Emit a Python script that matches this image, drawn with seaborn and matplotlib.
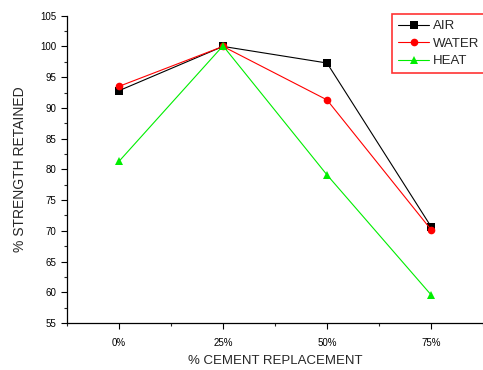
import matplotlib
matplotlib.use('Agg')
import matplotlib.pyplot as plt
from matplotlib.ticker import MultipleLocator, FixedLocator
import seaborn as sns
import pandas as pd

# data
replacement = ['0%', '25%', '50%', '75%']
air = [92.8, 100.0, 97.3, 70.7]
water = [93.5, 100.0, 91.3, 70.2]
heat = [81.3, 100.1, 79.1, 59.6]

series_names = ['AIR', 'WATER', 'HEAT']
colors = {'AIR': 'black', 'WATER': 'red', 'HEAT': '#00ee00'}
markers = {'AIR': 's', 'WATER': 'o', 'HEAT': '^'}

df = pd.DataFrame({
    'pos': list(range(len(replacement))) * 3,
    'value': air + water + heat,
    'series': [s for s in series_names for _ in replacement],
})

sns.set_style('ticks')
plt.rcParams['font.family'] = ['Liberation Sans', 'DejaVu Sans']

fig = plt.figure(figsize=(4.83, 3.70), dpi=100)
ax = fig.add_axes([0.1387, 0.127, 0.8613, 0.8306])

sns.lineplot(data=df, x='pos', y='value', hue='series', style='series',
             hue_order=series_names, style_order=series_names,
             palette=colors, markers=markers, dashes=False,
             linewidth=0.8, markersize=5.5, markeredgewidth=0, ax=ax)

ax.set_xlim(-0.5, 3.5)
ax.set_ylim(55, 105)
ax.set_xticks(range(len(replacement)))
ax.set_xticklabels(replacement)
ax.xaxis.set_minor_locator(FixedLocator([-0.5, 0.5, 1.5, 2.5, 3.5]))
ax.yaxis.set_major_locator(MultipleLocator(5))
ax.yaxis.set_minor_locator(MultipleLocator(2.5))
ax.tick_params(axis='both', which='major', direction='out', length=4, width=0.8,
               labelsize=7, colors='black')
ax.tick_params(axis='both', which='minor', direction='out', length=2.5, width=0.8)
ax.tick_params(axis='x', pad=7)

for side in ['top', 'right']:
    ax.spines[side].set_visible(False)
for side in ['left', 'bottom']:
    ax.spines[side].set_linewidth(0.9)
    ax.spines[side].set_color('black')

ax.set_xlabel('% CEMENT REPLACEMENT', fontsize=9.5, labelpad=5)
ax.set_ylabel('% STRENGTH RETAINED', fontsize=10, labelpad=10)

leg = ax.legend(loc='upper left', bbox_to_anchor=(0.781, 1.005), borderaxespad=0,
                fontsize=9.5, handlelength=2.4, handletextpad=0.25,
                fancybox=False, frameon=True, labelspacing=0.4,
                borderpad=0.45, title=None)
leg.get_frame().set_edgecolor('red')
leg.get_frame().set_linewidth(1.2)

fig.savefig('out.png', dpi=100)
plt.close(fig)
